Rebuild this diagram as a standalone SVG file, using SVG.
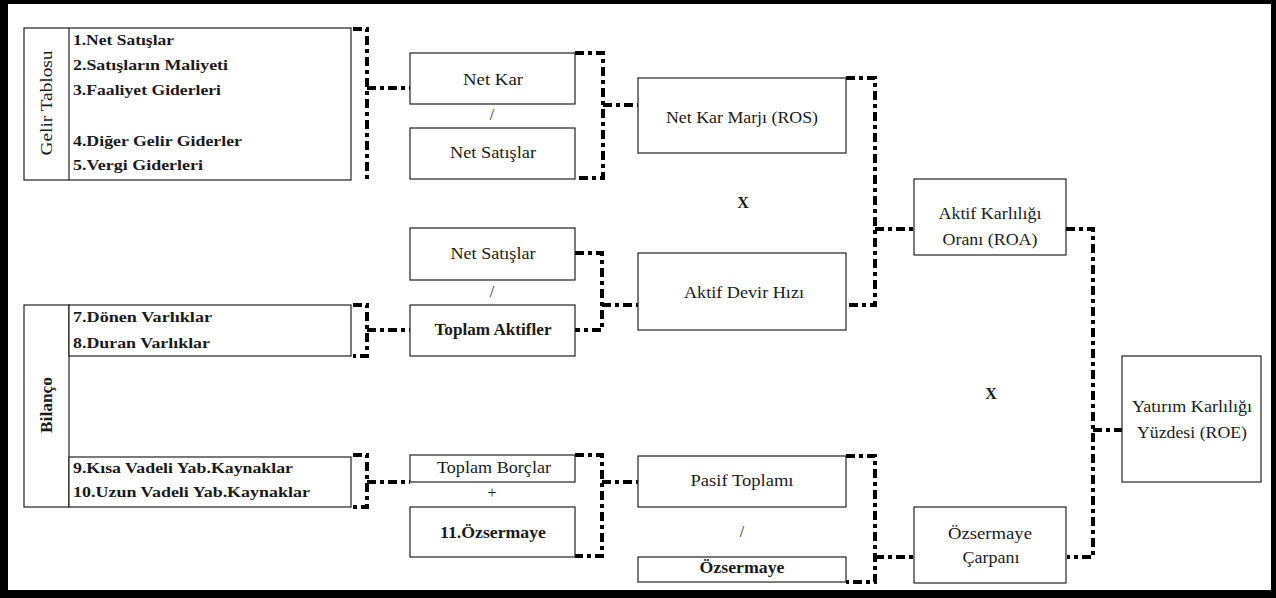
<svg xmlns="http://www.w3.org/2000/svg" width="1276" height="598" viewBox="0 0 1276 598">
<style>
.box{fill:#fff;stroke:#222;stroke-width:1.2}
.t{font-family:"Liberation Serif","DejaVu Serif",serif;font-size:16px;fill:#1a1a1a;text-anchor:middle}
.b{font-family:"Liberation Serif","DejaVu Serif",serif;font-size:15px;font-weight:bold;fill:#1a1a1a}
.bm{font-weight:bold}
.con{fill:none;stroke:#000;stroke-width:4;stroke-dasharray:9 4 4 4}
</style>
<rect width="1276" height="598" fill="#fff"/>
<g id="frame" fill="#000">
<rect x="0" y="0" width="1276" height="4"/>
<rect x="0" y="0" width="8" height="598"/>
<rect x="1271" y="0" width="5" height="598"/>
<rect x="0" y="590" width="1276" height="8"/>
</g>
<g id="connectors">
<path class="con" d="M353,29 H367 V180"/>
<path class="con" d="M367,88 H410"/>
<path class="con" d="M575,53 H603 V178 H575"/>
<path class="con" d="M603,105 H638"/>
<path class="con" d="M846,78 H875 V305 H848"/>
<path class="con" d="M875,229 H914"/>
<path class="con" d="M575,253 H602 V330 H575"/>
<path class="con" d="M602,305 H638"/>
<path class="con" d="M353,305 H367 V356 H353"/>
<path class="con" d="M367,330 H410"/>
<path class="con" d="M353,455 H367 V507 H353"/>
<path class="con" d="M367,482 H410"/>
<path class="con" d="M575,455 H602 V556 H575"/>
<path class="con" d="M602,482 H638"/>
<path class="con" d="M846,456 H875 V582 H846"/>
<path class="con" d="M875,557 H914"/>
<path class="con" d="M1066,229 H1093 V557 H1067"/>
<path class="con" d="M1093,430 H1122"/>
</g>
<g id="gelir-tablosu">
<rect class="box" x="24" y="28" width="327" height="152"/>
<line x1="69" y1="28" x2="69" y2="180" stroke="#222" stroke-width="1.2"/>
<text class="t" transform="translate(52,103) rotate(-90)" textLength="105" lengthAdjust="spacingAndGlyphs">Gelir Tablosu</text>
<text class="b" x="73" y="45" textLength="101" lengthAdjust="spacingAndGlyphs">1.Net Satışlar</text>
<text class="b" x="73" y="70" textLength="155" lengthAdjust="spacingAndGlyphs">2.Satışların Maliyeti</text>
<text class="b" x="73" y="95" textLength="148" lengthAdjust="spacingAndGlyphs">3.Faaliyet Giderleri</text>
<text class="b" x="73" y="146" textLength="169" lengthAdjust="spacingAndGlyphs">4.Diğer Gelir Giderler</text>
<text class="b" x="73" y="170" textLength="130" lengthAdjust="spacingAndGlyphs">5.Vergi Giderleri</text>
</g>
<g id="bilanco">
<rect class="box" x="24" y="305" width="45" height="202"/>
<rect class="box" x="69" y="305" width="282" height="51"/>
<rect class="box" x="69" y="457" width="282" height="50"/>
<text class="t bm" transform="translate(52,405) rotate(-90)" textLength="56" lengthAdjust="spacingAndGlyphs">Bilanço</text>
<text class="b" x="73" y="322" textLength="139" lengthAdjust="spacingAndGlyphs">7.Dönen Varlıklar</text>
<text class="b" x="73" y="348" textLength="137" lengthAdjust="spacingAndGlyphs">8.Duran Varlıklar</text>
<text class="b" x="73" y="473" textLength="220" lengthAdjust="spacingAndGlyphs">9.Kısa Vadeli Yab.Kaynaklar</text>
<text class="b" x="73" y="497" textLength="237" lengthAdjust="spacingAndGlyphs">10.Uzun Vadeli Yab.Kaynaklar</text>
</g>
<g id="net-kar">
<rect class="box" x="410" y="53" width="165" height="51"/>
<text class="t" x="493" y="85" textLength="60" lengthAdjust="spacingAndGlyphs">Net Kar</text>
</g>
<text class="t" x="492" y="120">/</text>
<g id="net-satislar-1">
<rect class="box" x="410" y="128" width="165" height="51"/>
<text class="t" x="493" y="158" textLength="86" lengthAdjust="spacingAndGlyphs">Net Satışlar</text>
</g>
<g id="net-kar-marji">
<rect class="box" x="638" y="78" width="208" height="75"/>
<text class="t" x="742" y="123" textLength="152" lengthAdjust="spacingAndGlyphs">Net Kar Marjı (ROS)</text>
</g>
<text class="t bm" x="743" y="208">X</text>
<g id="net-satislar-2">
<rect class="box" x="410" y="228" width="165" height="52"/>
<text class="t" x="493" y="259" textLength="85" lengthAdjust="spacingAndGlyphs">Net Satışlar</text>
</g>
<text class="t" x="492" y="297">/</text>
<g id="toplam-aktifler">
<rect class="box" x="410" y="305" width="165" height="51"/>
<text class="t" x="493" y="335" textLength="117" lengthAdjust="spacingAndGlyphs" font-weight="bold">Toplam Aktifler</text>
</g>
<g id="aktif-devir-hizi">
<rect class="box" x="638" y="253" width="208" height="77"/>
<text class="t" x="744" y="298" textLength="120" lengthAdjust="spacingAndGlyphs">Aktif Devir Hızı</text>
</g>
<g id="aktif-karliligi">
<rect class="box" x="914" y="179" width="152" height="76"/>
<text class="t" x="990" y="219" textLength="103" lengthAdjust="spacingAndGlyphs">Aktif Karlılığı</text>
<text class="t" x="990" y="245" textLength="95" lengthAdjust="spacingAndGlyphs">Oranı (ROA)</text>
</g>
<text class="t bm" x="991" y="399">X</text>
<g id="roe">
<rect class="box" x="1122" y="356" width="139" height="126"/>
<text class="t" x="1192" y="412" textLength="120" lengthAdjust="spacingAndGlyphs">Yatırım Karlılığı</text>
<text class="t" x="1192" y="438" textLength="110" lengthAdjust="spacingAndGlyphs">Yüzdesi (ROE)</text>
</g>
<g id="toplam-borclar">
<rect class="box" x="410" y="455" width="165" height="27"/>
<text class="t" x="494" y="473" textLength="114" lengthAdjust="spacingAndGlyphs">Toplam Borçlar</text>
</g>
<text class="t" x="492" y="498">+</text>
<g id="ozsermaye-11">
<rect class="box" x="410" y="507" width="165" height="50"/>
<text class="t bm" x="493" y="538" textLength="106" lengthAdjust="spacingAndGlyphs">11.Özsermaye</text>
</g>
<g id="pasif-toplami">
<rect class="box" x="638" y="456" width="208" height="51"/>
<text class="t" x="742" y="486" textLength="103" lengthAdjust="spacingAndGlyphs">Pasif Toplamı</text>
</g>
<text class="t" x="742" y="537">/</text>
<g id="ozsermaye">
<rect class="box" x="638" y="557" width="208" height="25"/>
<text class="t bm" x="742" y="573" textLength="85" lengthAdjust="spacingAndGlyphs">Özsermaye</text>
</g>
<g id="ozsermaye-carpani">
<rect class="box" x="914" y="507" width="152" height="76"/>
<text class="t" x="990" y="539" textLength="84" lengthAdjust="spacingAndGlyphs">Özsermaye</text>
<text class="t" x="991" y="563" textLength="57" lengthAdjust="spacingAndGlyphs">Çarpanı</text>
</g>
</svg>
